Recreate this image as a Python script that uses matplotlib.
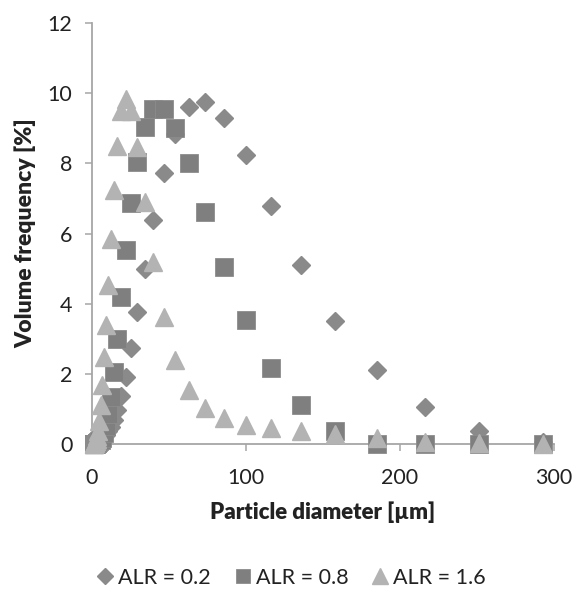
import matplotlib
matplotlib.use("Agg")
import matplotlib.pyplot as plt

# particle diameter bins [um]
diameter = [1.0, 1.2, 1.4, 1.6, 1.9, 2.2, 2.6, 3.0, 3.5, 4.1, 4.8, 5.6, 6.5, 7.6, 8.9,
            10.4, 12.1, 14.0, 16.2, 18.8, 21.8, 25.4, 29.4, 34.2, 39.8, 46.5, 54.0,
            63.0, 73.5, 86.0, 100.0, 116.5, 135.5, 158.0, 185.0, 216.0, 251.0, 293.0]

# volume frequency [%]
alr_02 = [0, 0, 0, 0, 0, 0.01, 0.02, 0.03, 0.04, 0.06, 0.08, 0.11, 0.15, 0.2, 0.27,
          0.36, 0.48, 0.68, 0.97, 1.37, 1.92, 2.74, 3.76, 5.0, 6.38, 7.72, 8.85,
          9.6, 9.75, 9.3, 8.25, 6.78, 5.1, 3.5, 2.1, 1.05, 0.37, 0.05]
alr_08 = [0, 0, 0, 0, 0, 0, 0.01, 0.02, 0.03, 0.05, 0.08, 0.12, 0.18, 0.3, 0.5,
          0.85, 1.35, 2.05, 3.0, 4.2, 5.53, 6.86, 8.03, 9.03, 9.55, 9.55, 9.0,
          8.0, 6.6, 5.05, 3.53, 2.17, 1.1, 0.37, 0, 0, 0, 0]
alr_16 = [0, 0, 0.01, 0.02, 0.03, 0.05, 0.08, 0.13, 0.22, 0.38, 0.65, 1.1, 1.68, 2.48, 3.4,
          4.53, 5.85, 7.24, 8.5, 9.5, 9.85, 9.5, 8.47, 6.9, 5.2, 3.62, 2.4,
          1.54, 1.03, 0.74, 0.55, 0.46, 0.37, 0.28, 0.17, 0.06, 0.02, 0.0]

labels = ["ALR = 0.2", "ALR = 0.8", "ALR = 1.6"]

plt.rcParams['font.family'] = ['Lato', 'DejaVu Sans']

fig = plt.figure(figsize=(5.8, 5.92), dpi=100)
ax = fig.add_axes([0.1586, 0.25, 0.7966, 0.711])

h1, = ax.plot(diameter, alr_02, 'D', color='#8a8a8a', markersize=9.3, mec='#8a8a8a', clip_on=False, zorder=3)
h2, = ax.plot(diameter, alr_08, 's', color='#7f7f7f', markersize=12.5, mec='#8c8c8c', mew=0.6, clip_on=False, zorder=4)
h3, = ax.plot(diameter, alr_16, '^', color='#b3b3b3', markersize=13, mec='#b3b3b3', clip_on=False, zorder=5)

ax.set_xlim(0, 300)
ax.set_ylim(0, 12)
ax.set_xticks([0, 100, 200, 300])
ax.set_yticks([0, 2, 4, 6, 8, 10, 12])

for s in ['top', 'right']:
    ax.spines[s].set_visible(False)
for s in ['left', 'bottom']:
    ax.spines[s].set_color('#a6a6a6')
    ax.spines[s].set_linewidth(1.3)

ax.tick_params(axis='both', direction='out', length=5, width=1.1, color='#a6a6a6',
               labelsize=15.5, labelcolor='#222222')
ax.tick_params(axis='x', pad=12)
ax.tick_params(axis='y', pad=9)

ax.set_xlabel("Particle diameter [µm]", fontsize=16, fontweight='heavy', color='#222222', labelpad=10)
ax.set_ylabel("Volume frequency [%]", fontsize=16.5, fontweight='heavy', color='#222222', labelpad=8)

fig.legend([h1, h2, h3], labels, loc='center', bbox_to_anchor=(0.5, 14 / 592), ncol=3,
           frameon=False, fontsize=15.5, markerscale=0.85, handletextpad=0.1,
           columnspacing=1.0, handlelength=1.0, labelcolor='#222222')

fig.savefig("out.png", dpi=100)
